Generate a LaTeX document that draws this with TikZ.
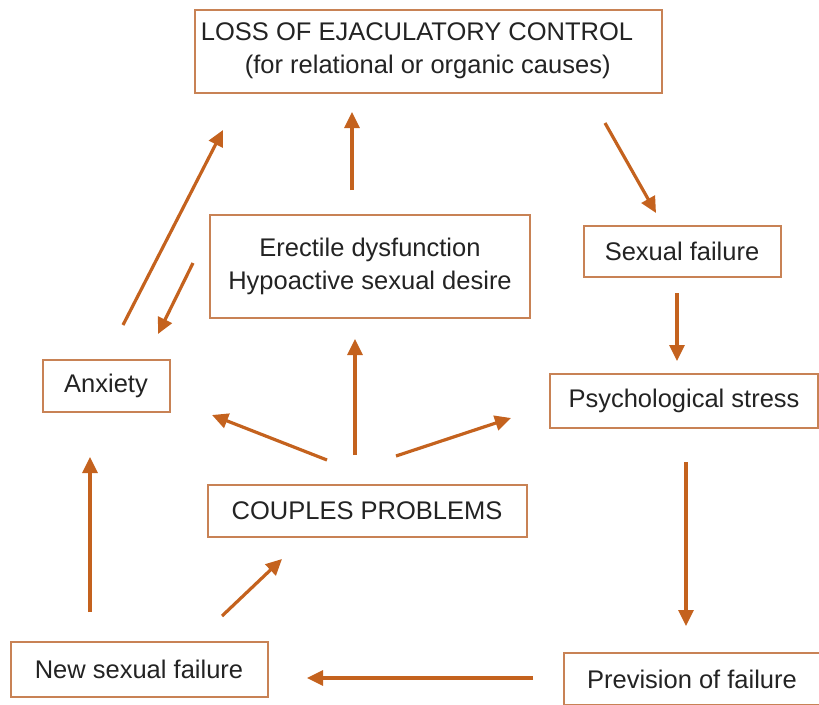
\documentclass[tikz,border=0pt]{standalone}
\usepackage{fontspec}
\setmainfont{Liberation Sans}
\usetikzlibrary{arrows.meta}
\definecolor{arrowbrown}{RGB}{196,98,30}
\definecolor{boxtan}{RGB}{200,130,85}
\definecolor{textgray}{RGB}{35,35,35}
\tikzset{
  stepbox/.style={draw=boxtan, line width=2pt, rectangle, inner sep=0pt, text=textgray, font=\fontsize{25.5}{33}\selectfont, align=center},
  flow/.style={draw=arrowbrown, line width=3.2pt, -{Triangle[length=16pt,width=15pt]}}
}
\begin{document}
\begin{tikzpicture}[x=1pt,y=-1pt]
\useasboundingbox (0,0) rectangle (819,704);
\node[stepbox, minimum width=467, minimum height=83, align=left] (loss) at (428,51){LOSS OF EJACULATORY CONTROL\rule{22pt}{0pt}\\\rule{44pt}{0pt}(for relational or organic causes)};
\node[stepbox, minimum width=320, minimum height=103] (erect) at (370,266.5){Erectile dysfunction\\Hypoactive sexual desire};
\node[stepbox, minimum width=197, minimum height=51] (sfail) at (682,251.5){Sexual failure};
\node[stepbox, minimum width=268, minimum height=54] (stress) at (684,401){Psychological stress};
\node[stepbox, minimum width=127, minimum height=52] (anx) at (106,386){Anxiety};
\node[stepbox, minimum width=319, minimum height=52] (couple) at (367,511){COUPLES PROBLEMS};
\node[stepbox, minimum width=257, minimum height=55] (nfail) at (139,669.5){New sexual failure};
\node[stepbox, minimum width=256, minimum height=52] (prev) at (692,679){Prevision of failure};
% arrow ends
\coordinate (up0) at (352,190);
\coordinate (up1) at (352,112);
\coordinate (anx0) at (123,325);
\coordinate (anx1) at (223,130);
\coordinate (ret0) at (193,263);
\coordinate (ret1) at (158,334);
\coordinate (loss0) at (605,123);
\coordinate (loss1) at (656,213);
\coordinate (sf0) at (677,293);
\coordinate (sf1) at (677,361);
\coordinate (st0) at (686,462);
\coordinate (st1) at (686,626);
\coordinate (pv0) at (533,678);
\coordinate (pv1) at (307,678);
\coordinate (nf0) at (90,612);
\coordinate (nf1) at (90,457);
\coordinate (nc0) at (222,616);
\coordinate (nc1) at (282,559);
\coordinate (cp0) at (355,455);
\coordinate (cp1) at (355,339);
\coordinate (cl0) at (327,460);
\coordinate (cl1) at (212,415);
\coordinate (cr0) at (396,456);
\coordinate (cr1) at (511,418);
\draw[flow](up0) -- (up1);
\draw[flow](anx0) -- (anx1);
\draw[flow](ret0) -- (ret1);
\draw[flow](loss0) -- (loss1);
\draw[flow](sf0) -- (sf1);
\draw[flow](st0) -- (st1);
\draw[flow](pv0) -- (pv1);
\draw[flow](nf0) -- (nf1);
\draw[flow](nc0) -- (nc1);
\draw[flow](cp0) -- (cp1);
\draw[flow](cl0) -- (cl1);
\draw[flow](cr0) -- (cr1);

\end{tikzpicture}
\end{document}
